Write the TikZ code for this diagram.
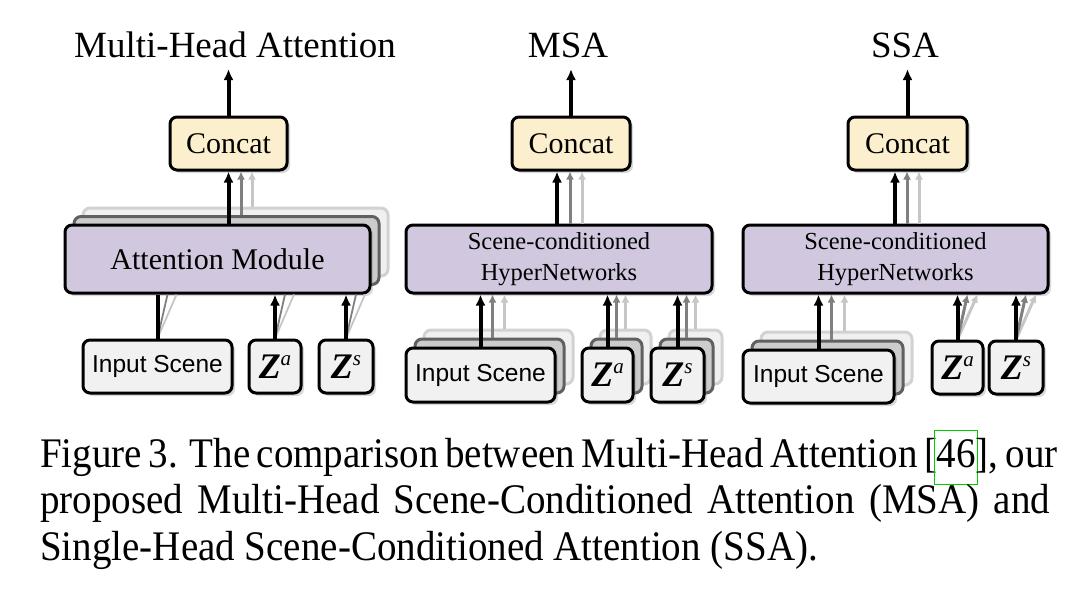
\documentclass[tikz,border=0pt]{standalone}
\usepackage{fontspec}
\setmainfont{Liberation Serif}
\setsansfont{Liberation Sans}
\usetikzlibrary{arrows.meta,shadows,calc}

\definecolor{concatfill}{RGB}{252,239,205}
\definecolor{modfill}{RGB}{209,200,223}
\definecolor{infill}{RGB}{241,241,241}

\newcommand{\zsym}[1]{{\rmfamily\fontsize{36}{36}\selectfont\bfseries\itshape Z}\raisebox{13pt}{\rmfamily\fontsize{21}{21}\selectfont\itshape #1}}
\newcommand{\citebox}[1]{\kern-2.5pt{\color{green!80!black}\setlength{\fboxsep}{1.5pt}\setlength{\fboxrule}{0.9pt}\fbox{\color{black}\strut#1}}\kern-2.5pt}

\tikzset{
  box/.style={draw=black, line width=3pt, rounded corners=7pt, inner sep=0pt,
    drop shadow={shadow xshift=3pt, shadow yshift=-3pt, opacity=0.3}},
  concat/.style={box, fill=concatfill, minimum width=117pt, minimum height=53pt,
    font=\fontsize{30}{30}\selectfont},
  module/.style={box, fill=modfill, minimum width=305pt, minimum height=68pt,
    align=center, font=\fontsize{24.5}{31.5}\selectfont},
  inbox/.style={box, fill=infill, minimum height=53pt,
    font=\sffamily\fontsize{24.5}{24.5}\selectfont},
  layerA/.style={draw=gray!75!black, line width=3pt, rounded corners=7pt, fill=gray!40, inner sep=0pt},
  layerB/.style={draw=gray!35, line width=3pt, rounded corners=7pt, fill=gray!12, inner sep=0pt},
  title/.style={anchor=base, inner sep=0pt, font=\fontsize{37}{40}\selectfont},
  caption/.style={anchor=base west, inner sep=0pt, font=\fontsize{39}{46}\selectfont},
  head/.style={line width=4pt, -{Latex[length=11pt,width=10pt]}},
  mid/.style={draw=gray, line width=3pt, -{Latex[length=8pt,width=8pt]}},
  faint/.style={draw=gray!45, line width=3pt, -{Latex[length=8pt,width=8pt]}},
  midline/.style={draw=gray, line width=1.8pt},
  faintline/.style={draw=gray!45, line width=1.8pt}
}

\begin{document}
\begin{tikzpicture}[x=1pt, y=-1pt]
\useasboundingbox (0,0) rectangle (1091,597);

% Multi-Head Attention
\node[title] (T1) at (235,57) {Multi-Head Attention};
\coordinate (O1) at (228.5,69);
\node[concat] (C1) at (228.5,143.5) {Concat};
\node[layerB, minimum width=305pt, minimum height=68pt] (M1c) at (235.5,242) {};
\node[layerA, minimum width=305pt, minimum height=68pt] (M1b) at (226.5,250.5) {};
\node[module, font=\fontsize{30}{30}\selectfont] (M1) at (217.5,259) {Attention Module};
\node[inbox, minimum width=149pt] (In1) at (157.5,366.5) {Input Scene};
\node[inbox, minimum width=52pt] (Za1) at (275,366.5) {\zsym{a}};
\node[inbox, minimum width=54pt] (Zs1) at (346,366.5) {\zsym{s}};

\draw[head] (C1.north) -- (O1);
\draw[faint] ($(M1c.north)+(16.5,0)$) -- ($(C1.south)+(23.5,0)$);
\draw[mid] ($(M1b.north)+(14.5,0)$) -- ($(C1.south)+(12.5,0)$);
\draw[head] ($(M1.north)+(11,0)$) -- (C1.south);
\foreach \n in {In1, Za1, Zs1} {
  \draw[faintline] (\n.north) -- ($(\n.north |- M1.south)+(19,0)$);
  \draw[midline] (\n.north) -- ($(\n.north |- M1.south)+(10,0)$);
}
\draw[line width=4pt] (In1.north) -- (In1.north |- M1.south);
\draw[head] (Za1.north) -- (Za1.north |- M1.south);
\draw[head] (Zs1.north) -- (Zs1.north |- M1.south);

% MSA
\node[title] (T2) at (568,57) {MSA};
\coordinate (O2) at (571,69);
\node[concat, minimum width=118pt] (C2) at (571,143.5) {Concat};
\node[module, minimum width=306pt] (M2) at (559,259) {Scene-conditioned\\HyperNetworks};
\foreach \n/\x/\w in {In2/480.5/149, Za2/607.5/51, Zs2/677.5/53} {
  \node[layerB, minimum width=\w pt, minimum height=54pt] (\n c) at (\x+18,357) {};
  \node[layerA, minimum width=\w pt, minimum height=54pt] (\n b) at (\x+9,366) {};
}
\node[inbox, minimum width=149pt, minimum height=54pt] (In2) at (480.5,375) {Input Scene};
\node[inbox, minimum width=51pt, minimum height=54pt] (Za2) at (607.5,375) {\zsym{a}};
\node[inbox, minimum width=53pt, minimum height=54pt] (Zs2) at (677.5,375) {\zsym{s}};

\draw[head] (C2.north) -- (O2);
\draw[faint] ($(C2.south |- M2.north)+(11,0)$) -- ($(C2.south)+(11,0)$);
\draw[mid] ($(C2.south |- M2.north)+(-1,0)$) -- ($(C2.south)+(-1,0)$);
\draw[head] ($(C2.south |- M2.north)+(-14,0)$) -- ($(C2.south)+(-14,0)$);

% SSA
\node[title] (T3) at (905,57) {SSA};
\coordinate (O3) at (907.5,69);
\node[concat, minimum width=119pt] (C3) at (907.5,143.5) {Concat};
\node[module] (M3) at (895.5,259) {Scene-conditioned\\HyperNetworks};
\node[layerB, minimum width=151pt, minimum height=53pt] (In3c) at (836.5,358.5) {};
\node[layerA, minimum width=151pt, minimum height=53pt] (In3b) at (827.5,367.5) {};
\node[inbox, minimum width=151pt] (In3) at (818.5,376.5) {Input Scene};
\node[inbox, minimum width=51pt] (Za3) at (957.5,367.5) {\zsym{a}};
\node[inbox, minimum width=54pt] (Zs3) at (1016,367.5) {\zsym{s}};

\draw[head] (C3.north) -- (O3);
\draw[faint] ($(C3.south |- M3.north)+(11.5,0)$) -- ($(C3.south)+(11.5,0)$);
\draw[mid] ($(C3.south |- M3.north)+(-0.5,0)$) -- ($(C3.south)+(-0.5,0)$);
\draw[head] ($(C3.south |- M3.north)+(-12.5,0)$) -- ($(C3.south)+(-12.5,0)$);
\foreach \n in {Za3, Zs3} {
  \draw[faint] (\n.north) -- ($(\n.north |- M3.south)+(20,0)$);
  \draw[mid] (\n.north) -- ($(\n.north |- M3.south)+(10,0)$);
  \draw[head] (\n.north) -- (\n.north |- M3.south);
}

% stacked inputs of MSA and SSA
\foreach \n/\m/\d in {In2/M2/3, Za2/M2/0, Zs2/M2/0, In3/M3/4} {
  \draw[faint] ($(\n c.north)+(2*\d,0)$) -- ($(\n c.north |- \m.south)+(2*\d,0)$);
  \draw[mid] ($(\n b.north)+(\d,0)$) -- ($(\n b.north |- \m.south)+(\d,0)$);
  \draw[head] (\n.north) -- (\n.north |- \m.south);
}

% caption
\node[caption] (L1) at (40,467) {\scalebox{1}[1.08]{\makebox[1010pt][s]{Figure 3. The comparison between Multi-Head Attention [\citebox{46}], our}}};
\node[caption] (L2) at (40,513) {\scalebox{1}[1.08]{\makebox[1010pt][s]{proposed Multi-Head Scene-Conditioned Attention (MSA) and}}};
\node[caption] (L3) at (40,560) {\scalebox{1}[1.08]{Single-Head Scene-Conditioned Attention (SSA).}};
\end{tikzpicture}
\end{document}
